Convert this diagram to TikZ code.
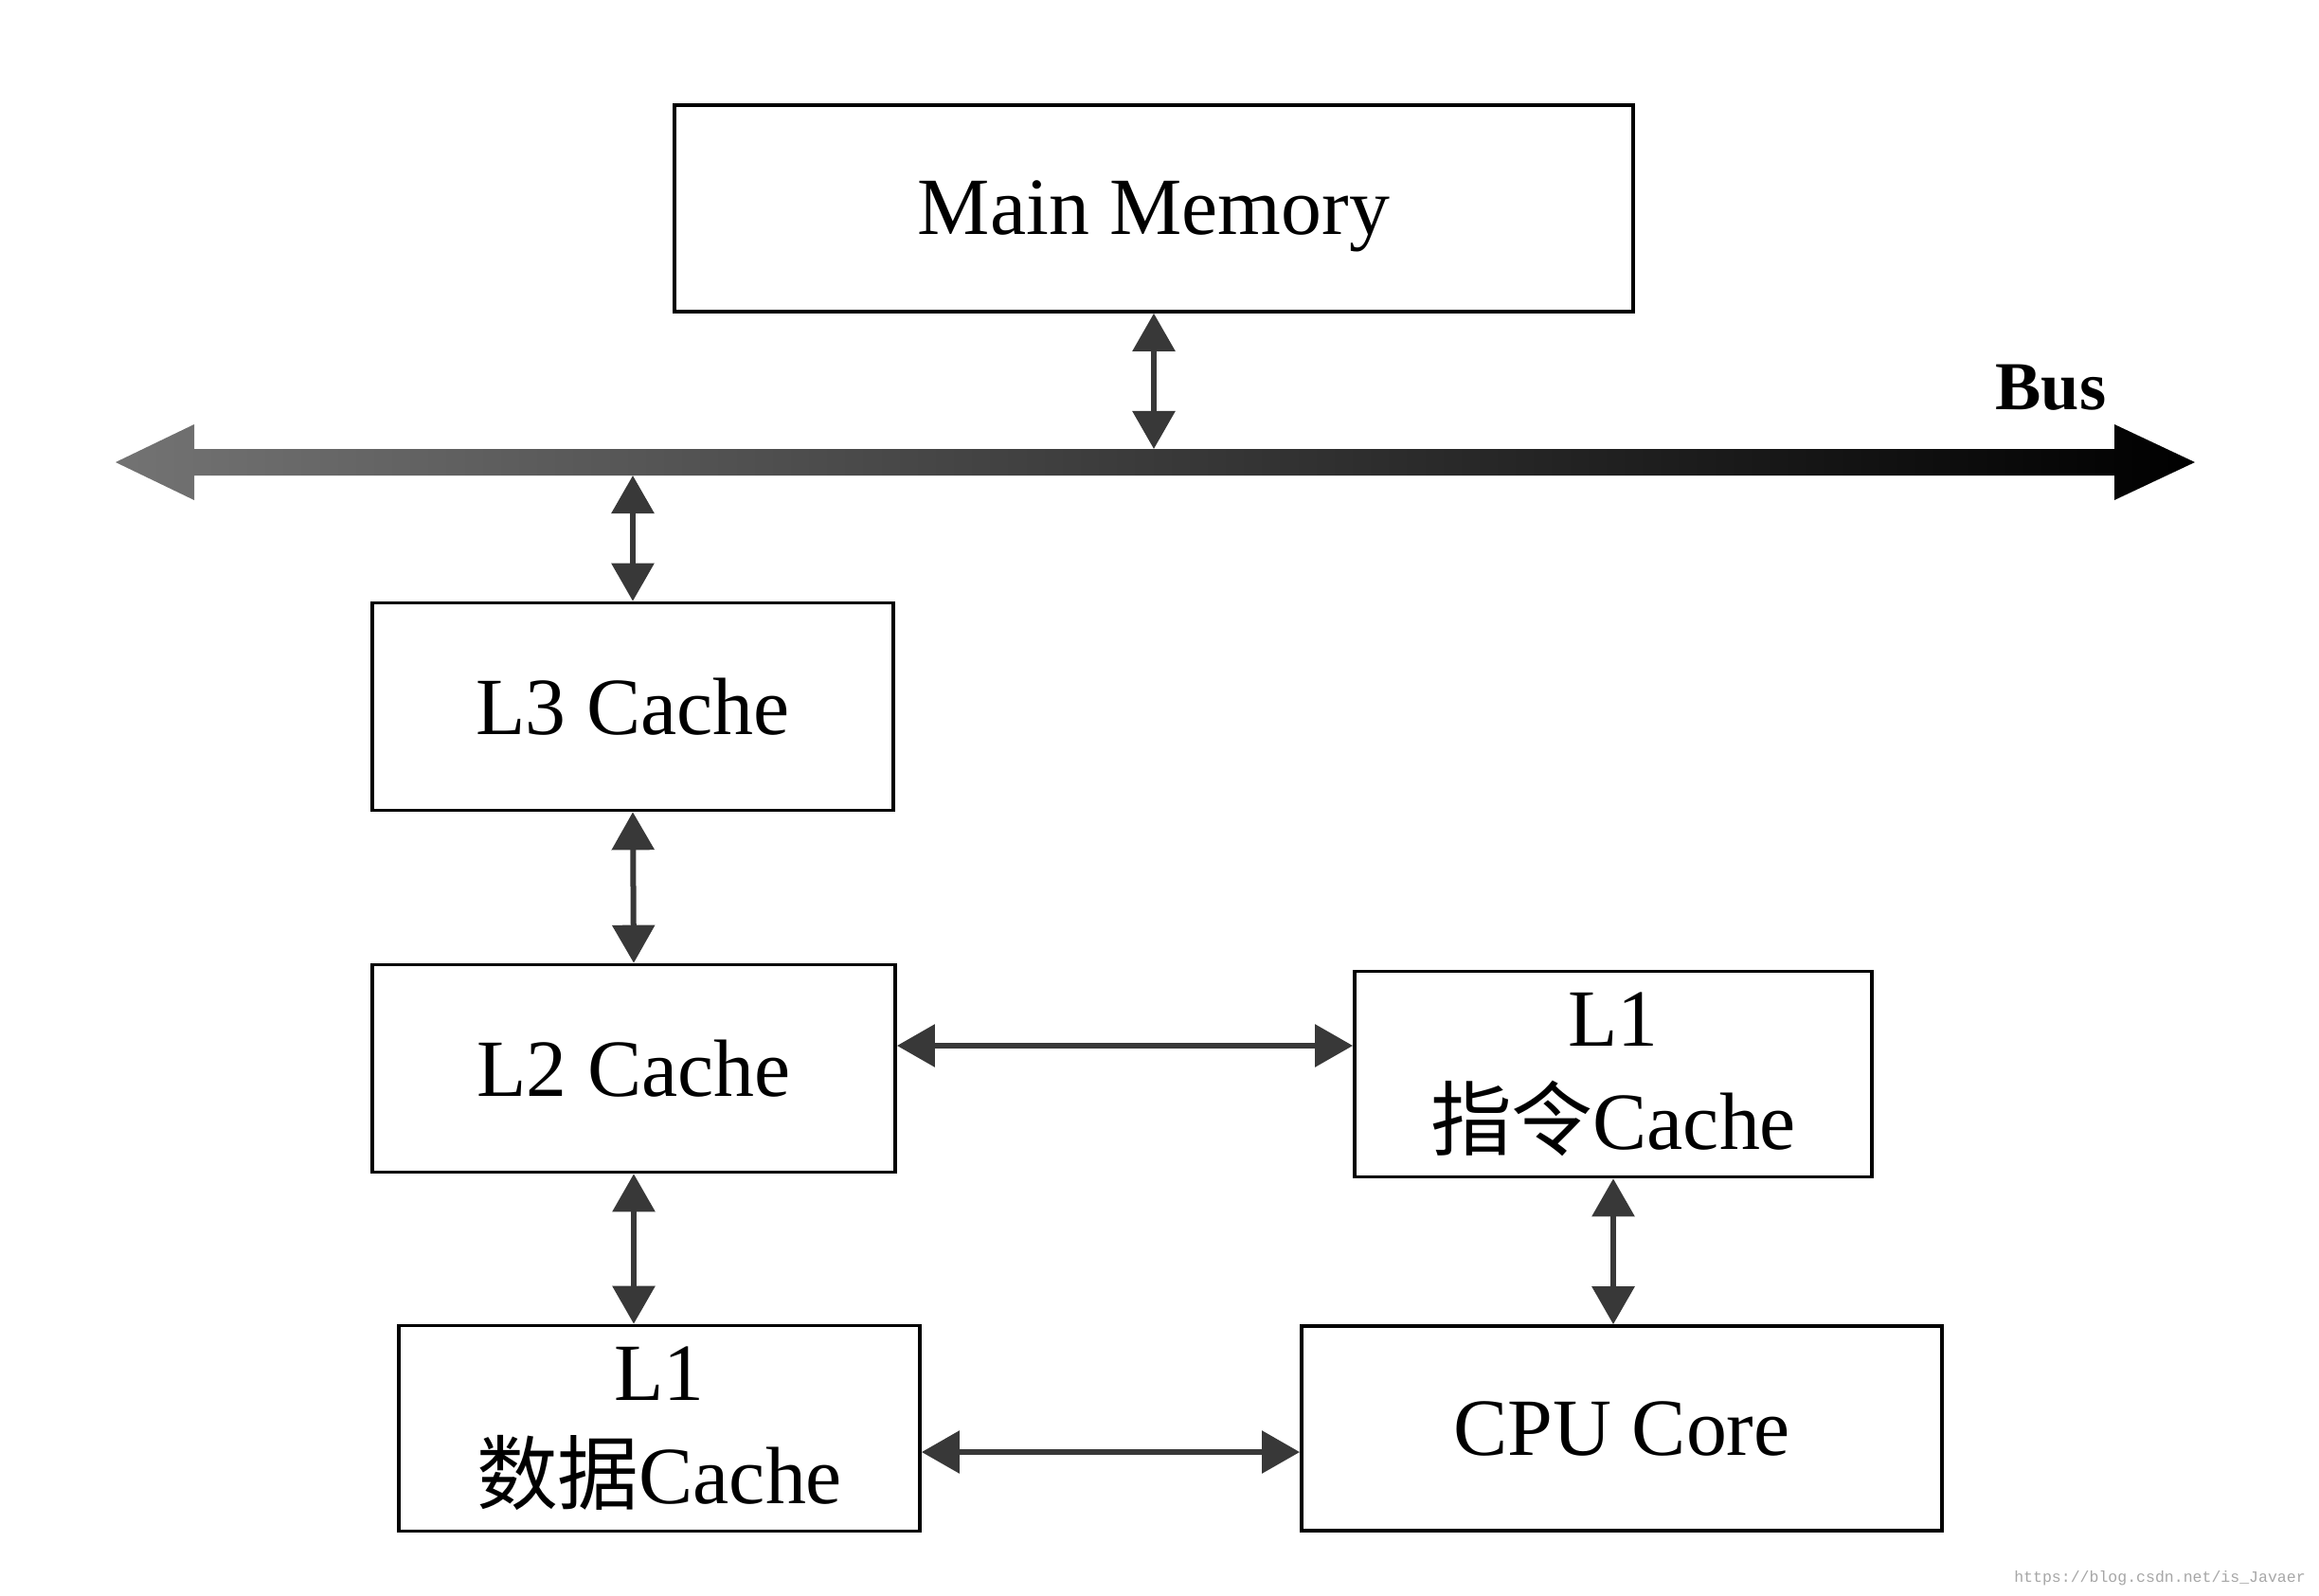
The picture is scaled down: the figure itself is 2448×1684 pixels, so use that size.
\documentclass[tikz,border=0pt]{standalone}
\usepackage{fontspec}
\setmainfont{Liberation Serif}
\newfontfamily\cjk{Noto Sans CJK SC}
\newfontfamily\wmfont{Liberation Mono}
\usetikzlibrary{arrows.meta}
\begin{document}
\begin{tikzpicture}[x=0.01cm,y=-0.01cm,
  box/.style={draw, line width=1pt, inner sep=0pt, align=center,
    font=\fontsize{24.4}{31}\selectfont},
  dar/.style={line width=0.06cm, draw=black!78,
    {Triangle[length=0.4cm,width=0.44cm]}-{Triangle[length=0.4cm,width=0.44cm]}}]
\useasboundingbox (0,0) rectangle (2448,1684);
% boxes
\node[box, minimum width=10.11cm, minimum height=2.18cm, text height=0.74cm, text depth=0.19cm] (mm) at (1218,220) {Main Memory};
\node[box, minimum width=5.50cm, minimum height=2.19cm] (l3) at (668,746) {L3 Cache};
\node[box, minimum width=5.52cm, minimum height=2.19cm] (l2) at (669,1128) {L2 Cache};
\node[box, minimum width=5.46cm, minimum height=2.17cm] (l1i) at (1703,1134) {L1\\{\cjk 指令}Cache};
\node[box, minimum width=5.50cm, minimum height=2.17cm] (l1d) at (696,1508) {L1\\{\cjk 数据}Cache};
\node[box, minimum width=6.76cm, minimum height=2.16cm] (cpu) at (1712,1508) {CPU Core};
% bus
\coordinate (busL) at (122,488);
\coordinate (busR) at (2317,488);
\coordinate (bustop) at (0,474);
\coordinate (busbot) at (0,502);
\shade[left color=black!55, middle color=black!72, right color=black]
  (busL) -- ++(83,-40) -- ++(0,26) -- (2232,474) -- ++(0,-26) -- (busR)
  -- (2232,528) -- ++(0,-26) -- (205,502) -- ++(0,26) -- cycle;
\node[font=\bfseries\fontsize{20.6}{24}\selectfont] (buslabel) at (2165,409) {Bus};
% connectors
\draw[dar] (mm.south) -- (mm.south |- bustop);
\draw[dar] (l3.north |- busbot) -- (l3.north);
\draw[dar] (l3.south) -- (l2.north);
\draw[dar] (l2.south) -- (l2.south |- l1d.north);
\coordinate (a1) at ([yshift=0.24cm]l2.east);
\draw[dar] (a1) -- (a1 -| l1i.west);
\draw[dar] (l1i.south) -- (l1i.south |- cpu.north);
\coordinate (a2) at ([yshift=-0.25cm]l1d.east);
\draw[dar] (a2) -- (a2 -| cpu.west);
% watermark
\node[font=\wmfont\fontsize{4.7}{6}\selectfont, text=black!35, inner sep=0pt] (wm) at (2280,1666) {https://blog.csdn.net/is\_Javaer};
\end{tikzpicture}
\end{document}
